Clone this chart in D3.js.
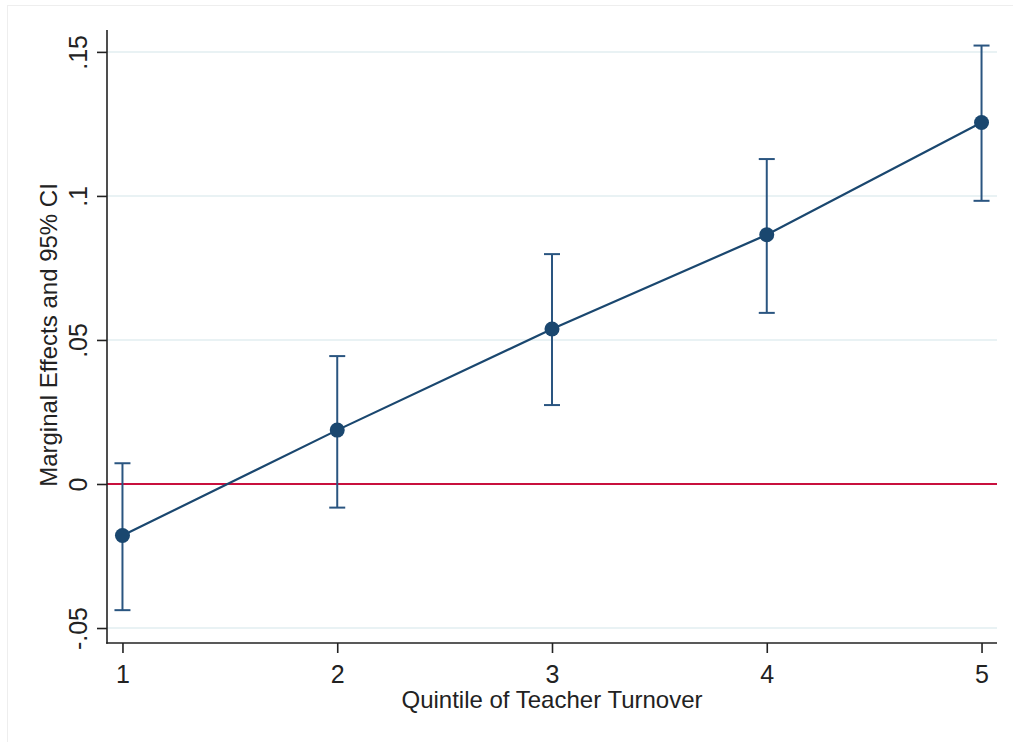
<!DOCTYPE html>
<html>
<head>
<meta charset="utf-8">
<script src="https://cdn.jsdelivr.net/npm/d3@7"></script>
<style>
  body { margin: 0; background: #fff; }
  svg { display: block; }
  text { font-family: "Liberation Sans", Arial, Helvetica, sans-serif; fill: #222; }
</style>
</head>
<body>
<svg id="chart" width="1013" height="742"></svg>
<script>
// Data
const quintiles = [1, 2, 3, 4, 5];
const estimates = [-0.0179, 0.0187, 0.0538, 0.0865, 0.1255];
const ciLower = [-0.0438, -0.0082, 0.0274, 0.0594, 0.0983];
const ciUpper = [0.0072, 0.0444, 0.0798, 0.1128, 0.1522];
const yTicks = [-0.05, 0, 0.05, 0.1, 0.15];
const yTickLabels = ["-.05", "0", ".05", ".1", ".15"];
const xTickLabels = ["1", "2", "3", "4", "5"];
const xTitle = "Quintile of Teacher Turnover";
const yTitle = "Marginal Effects and 95% CI";

(function () {
const svg = d3.select("#chart");
const mLeft = 107, mRight = 997, mTop = 30, mBottom = 643;

// outer graph region frame (faint)
svg.append("rect")
  .attr("x", 7.5).attr("y", 5.5).attr("width", 1100).attr("height", 800)
  .attr("fill", "none").attr("stroke", "#eeeeee").attr("stroke-width", 1);

const x = d3.scaleLinear().domain([0.928, 5.072]).range([mLeft, mRight]);
const y = d3.scaleLinear().domain([-0.0552, 0.1576]).range([mBottom, mTop]);

// gridlines
svg.append("g").selectAll("line").data(yTicks).join("line")
  .attr("x1", mLeft).attr("x2", mRight)
  .attr("y1", d => y(d)).attr("y2", d => y(d))
  .attr("stroke", "#e2eef0").attr("stroke-width", 1.5);

// zero reference line
svg.append("line")
  .attr("x1", mLeft).attr("x2", mRight)
  .attr("y1", y(0)).attr("y2", y(0))
  .attr("stroke", "#c8103e").attr("stroke-width", 1.8);

// axes
const yAxis = d3.axisLeft(y).tickValues(yTicks)
  .tickFormat((d, i) => yTickLabels[i]).tickSize(10).tickSizeOuter(0);
const gy = svg.append("g").attr("transform", `translate(${mLeft},0)`).call(yAxis);
gy.select(".domain").attr("stroke", "#222").attr("stroke-width", 1.6)
  .attr("d", `M0,${mTop}V${mBottom + 0.8}`);
gy.selectAll(".tick line").attr("stroke", "#222").attr("stroke-width", 1.6);
gy.selectAll(".tick text")
  .attr("font-size", 25).attr("fill", "#222")
  .attr("transform", "rotate(-90)")
  .attr("x", 0).attr("y", -20)
  .attr("dy", 0)
  .attr("text-anchor", "middle");

const xAxis = d3.axisBottom(x).tickValues(quintiles)
  .tickFormat((d, i) => xTickLabels[i]).tickSize(10).tickSizeOuter(0);
const gx = svg.append("g").attr("transform", `translate(0,${mBottom})`).call(xAxis);
gx.select(".domain").attr("stroke", "#222").attr("stroke-width", 1.6)
  .attr("d", `M${mLeft - 0.8},0H${mRight}`);
gx.selectAll(".tick line").attr("stroke", "#222").attr("stroke-width", 1.6);
gx.selectAll(".tick text")
  .attr("font-size", 25).attr("fill", "#222")
  .attr("y", 22).attr("dy", "0.71em");

// axis titles
svg.append("text")
  .attr("x", 552).attr("y", 708)
  .attr("text-anchor", "middle").attr("font-size", 24)
  .text(xTitle);
svg.append("text")
  .attr("transform", `translate(57,335) rotate(-90)`)
  .attr("text-anchor", "middle").attr("font-size", 24)
  .text(yTitle);

const navy = "#1a476f";
const ciColor = "#2a5580";

// CI bars
const ci = svg.append("g");
quintiles.forEach((q, i) => {
  ci.append("line")
    .attr("x1", x(q)).attr("x2", x(q))
    .attr("y1", y(ciLower[i])).attr("y2", y(ciUpper[i]))
    .attr("stroke", ciColor).attr("stroke-width", 2);
  [ciLower[i], ciUpper[i]].forEach(v => {
    ci.append("line")
      .attr("x1", x(q) - 8).attr("x2", x(q) + 8)
      .attr("y1", y(v)).attr("y2", y(v))
      .attr("stroke", ciColor).attr("stroke-width", 2);
  });
});

// connecting line
const line = d3.line().x((d, i) => x(quintiles[i])).y(d => y(d));
svg.append("path").datum(estimates)
  .attr("d", line).attr("fill", "none")
  .attr("stroke", navy).attr("stroke-width", 2.2);

// markers
svg.append("g").selectAll("circle").data(estimates).join("circle")
  .attr("cx", (d, i) => x(quintiles[i])).attr("cy", d => y(d))
  .attr("r", 7.5).attr("fill", navy);
})();
</script>
</body>
</html>
